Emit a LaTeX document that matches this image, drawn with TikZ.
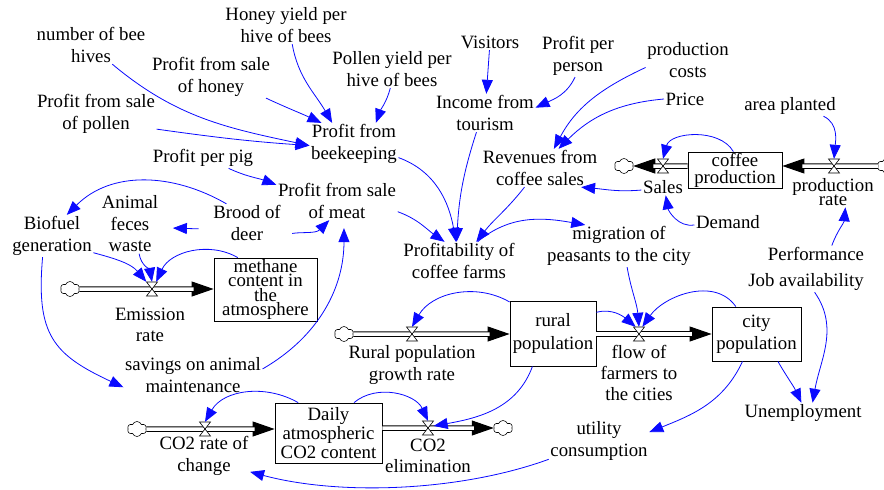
\documentclass[tikz,border=0pt]{standalone}
\usepackage{fontspec}
\setmainfont{Liberation Serif}
\usetikzlibrary{arrows.meta,shapes.symbols,calc}
\definecolor{linkblue}{RGB}{10,10,255}
\newcommand{\flowpipe}[2]{%
  \draw[flowhead] (#1) -- (#2);
  \draw[pipe, shorten >=20pt] (#1) -- (#2);}
\newcommand{\valveat}[3]{%
  \node[valvenode] (#1) at (#2,#3) {};
  \draw[valvedraw] ([shift={(-5.5,-7)}]#1.center) -- ([shift={(5.5,-7)}]#1.center)
     -- ([shift={(-5.5,7)}]#1.center) -- ([shift={(5.5,7)}]#1.center) -- cycle;}
\begin{document}
\lineskiplimit=-100pt\relax
\begin{tikzpicture}[x=1pt,y=-1pt,
  lbl/.style={align=center, inner sep=1.5pt, font=\fontsize{18.8}{21.5}\selectfont},
  stock/.style={draw=black, line width=0.8pt, fill=white, align=center, inner sep=0pt},
  cloudn/.style={cloud, cloud puffs=6, cloud puff arc=140, aspect=1.3, draw=black, line width=0.6pt, fill=white, inner sep=0pt, minimum width=19pt, minimum height=15pt},
  valvenode/.style={inner sep=0pt, minimum width=11pt, minimum height=14pt},
  valvedraw/.style={draw=black, line width=0.6pt, fill=white},
  pipe/.style={draw=black, double=white, double distance=3.5pt, line width=1pt},
  flowhead/.style={draw=black, line width=1pt, -{Triangle[length=22pt,width=15pt]}},
  link/.style={draw=linkblue, line width=0.8pt, -{Triangle[length=14pt,width=11pt]}},
]
\useasboundingbox[fill=white] (0,0) rectangle (884,490);

% ---------- text variables ----------
\node[lbl] (nbh) at (91,45) {number of bee\\hives};
\node[lbl] (hyp) at (286,25) {Honey yield per\\hive of bees};
\node[lbl] (psh) at (211,77) {Profit from sale\\of honey};
\node[lbl] (pyp) at (392,69) {Pollen yield per\\hive of bees};
\node[lbl] (vis) at (490,42) {Visitors};
\node[lbl] (ppp) at (578,56) {Profit per\\person};
\node[lbl] (pc) at (688,60) {production\\costs};
\node[lbl] (price) at (685,99) {Price};
\node[lbl] (area) at (790,106) {area planted};
\node[lbl] (psp) at (96,114) {Profit from sale\\of pollen};
\node[lbl] (inc) at (485,113) {Income from\\tourism};
\node[lbl] (pbk) at (354,144) {Profit from\\beekeeping};
\node[lbl] (ppig) at (203,158) {Profit per pig};
\node[lbl] (rev) at (540,168) {Revenues from\\coffee sales};
\node[lbl] (psm) at (337,201) {Profit from sale\\of meat};
\node[lbl] (afw) at (130,224) {Animal\\feces\\waste};
\node[lbl] (bd) at (247,223) {Brood of\\deer};
\node[lbl] (bio) at (52,236) {Biofuel\\generation};
\node[lbl] (prof) at (459,261) {Profitability of\\coffee farms};
\node[lbl] (mig) at (619,246) {migration of\\peasants to the city};
\node[lbl] (sales) at (663,187) {Sales};
\node[lbl, font=\fontsize{18.8}{14}\selectfont] (prate) at (833,192) {production\\rate};
\node[lbl] (dem) at (728,222) {Demand};
\node[lbl] (perf) at (816,254) {Performance};
\node[lbl] (job) at (806,282) {Job availability};
\node[lbl] (emr) at (150,325) {Emission\\rate};
\node[lbl] (sav) at (193,375) {savings on animal\\maintenance};
\node[lbl] (rgr) at (412,365) {Rural population\\growth rate};
\node[lbl, font=\fontsize{18.8}{21}\selectfont] (flow) at (639,373) {flow of\\farmers to\\the cities};
\node[lbl] (unemp) at (803,413) {Unemployment};
\node[lbl] (util) at (599,441) {utility\\consumption};
\node[lbl] (co2r) at (204,456) {CO2 rate of\\change};
\node[lbl] (co2e) at (428,456) {CO2\\elimination};

% ---------- clouds ----------
\node[cloudn] (cl1) at (624,166) {};
\node[cloudn] (cl2) at (887,166) {};
\node[cloudn] (cl3) at (70,289) {};
\node[cloudn] (cl4) at (344,334) {};
\node[cloudn] (cl5) at (137,429) {};
\node[cloudn] (cl6) at (503,428) {};

% ---------- stocks ----------
\node[stock, minimum width=94pt, minimum height=36pt, font=\fontsize{18.8}{17}\selectfont] (cp) at (735,170) {coffee\\production};
\node[stock, minimum width=103pt, minimum height=63pt, font=\fontsize{18.8}{14.5}\selectfont] (meth) at (265.5,289.5) {methane\\content in\\the\\atmosphere};
\node[stock, minimum width=86pt, minimum height=65pt, font=\fontsize{18.8}{23}\selectfont] (rural) at (553,333.5) {rural\\population};
\node[stock, minimum width=89pt, minimum height=54pt, font=\fontsize{18.8}{22}\selectfont] (city) at (756.5,334) {city\\population};
\node[stock, minimum width=107pt, minimum height=60pt, font=\fontsize{18.8}{19}\selectfont] (daily) at (328.5,433) {Daily\\atmospheric\\CO2 content};

% ---------- flows ----------
\flowpipe{cp.west |- cl1}{cl1.east}
\flowpipe{cl2.west}{cl2 -| cp.east}
\flowpipe{cl3.east}{cl3 -| meth.west}
\flowpipe{cl4.east}{cl4 -| rural.west}
\flowpipe{cl4 -| rural.east}{cl4 -| city.west}
\flowpipe{cl5.east}{cl5 -| daily.west}
\flowpipe{cl6 -| daily.east}{cl6.west}

% ---------- valves ----------
\valveat{vs}{663}{166}
\valveat{vp}{834}{166}
\valveat{ve}{152}{289}
\valveat{vr}{412}{334}
\valveat{vf}{639}{334}
\valveat{vc1}{205}{429}
\valveat{vc2}{428}{428}

% ---------- links ----------
\draw[link] (nbh.-42) to[out=-40,in=168] (pbk.182);
\draw[link] (psp.-14) to[out=-8,in=176] (pbk.182);
\draw[link] (psh.-21) to[out=-25,in=155] (pbk.147);
\draw[link] (hyp.-72) to[out=-80,in=120] (pbk.136);
\draw[link] (pyp.-95) to[out=-105,in=70] (pbk.44);
\draw[link] (vis) -- (inc);
\draw[link] (ppp.-98) to[out=-115,in=25] (inc.6);
\draw[link] (pc.190) to[out=205,in=62] (rev.54);
\draw[link] (price.180) to[out=185,in=45] (rev.46);
\draw[link] (inc.-114) to[out=-108,in=87] (prof.97);
\draw[link] (pbk.-17) to[out=-20,in=100] (prof.99);
\draw[link] (psm.-10) to[out=-20,in=145] (prof.127);
\draw[link] (rev.-129) to[out=-128,in=52] (prof.48);
\draw[link] (prof.46) to[out=40,in=170] (mig.148);
\draw[link] (sales.188) to[out=185,in=-5] (rev.-25);
\draw[link] (dem.185) to[out=190,in=-80] (sales.-72);
\draw[link] (cp.95) to[out=120,in=75] (vs.north);
\draw[link] (area.-17) to[out=-25,in=85] (vp.north);
\draw[link] (perf.28) to[out=70,in=-95] (prate.-51);
\draw[link] (job.-50) to[out=-55,in=80] (unemp.47);
\draw[link] (city.-52) to[out=-60,in=115] (unemp.99);
\draw[link] (city.-117) to[out=-115,in=22] (util.10);
\draw[link] (city.127) to[out=125,in=55] (vf.65);
\draw[link] (rural.26) to[out=15,in=140] (vf.115);
\draw[link] (mig.-69) to[out=-80,in=95] (vf.north);
\draw[link] (rural.144) to[out=150,in=60] (vr.north);
\draw[link] (rural.-122) to[out=-110,in=10] (vc2.20);
\draw[link] (daily.50) to[out=40,in=115] (vc2.north);
\draw[link] (daily.135) to[out=150,in=60] (vc1.north);
\draw[link] (util.200) to[out=200,in=-15,looseness=0.8] (co2r.-19);
\draw[link] (bio.-114) to[out=-95,in=155,looseness=1.3] (sav.190);
\draw[link] (bio.-22) to[out=-15,in=130] (ve.north west);
\draw[link] (afw.-73) to[out=-80,in=100] (ve.north);
\draw[link] (meth.131) to[out=150,in=65] (ve.60);
\draw[link] (bd.137) to[out=150,in=45] (bio.55);
\draw[link, shorten <=13pt, shorten >=13pt] (bd.190) -- (afw.-7);
\draw[link, shorten <=10pt] (bd.-19) to[out=10,in=-135] (psm.-112);
\draw[link] (ppig.-22) to[out=-25,in=160] (psm.165);
\draw[link, shorten >=8pt] (sav.5) to[out=30,in=-90] (psm.-70);
\end{tikzpicture}
\end{document}
